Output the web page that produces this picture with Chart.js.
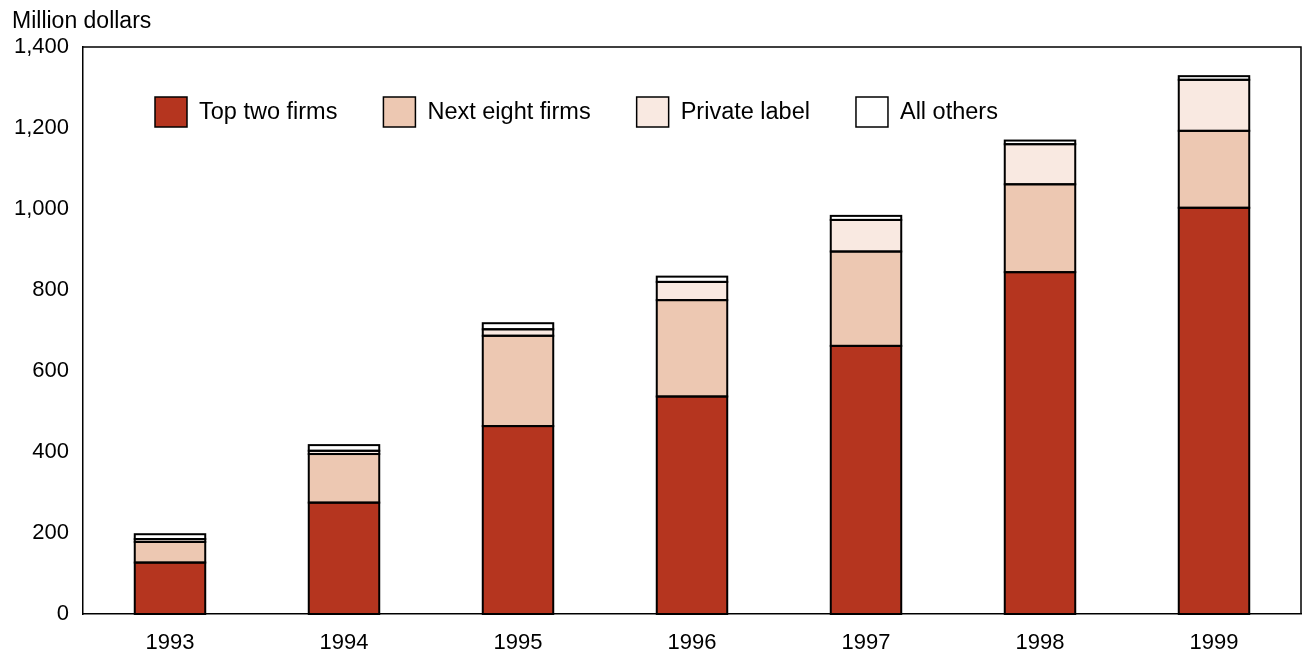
<!DOCTYPE html>
<html>
<head>
<meta charset="utf-8">
<script src="https://cdn.jsdelivr.net/npm/chart.js@4"></script>
<style>
  html, body { margin: 0; padding: 0; background: #fff; }
  #wrap { width: 1302px; height: 652px; }
</style>
</head>
<body>
<div id="wrap"><canvas id="salesChart" width="1302" height="652"></canvas></div>
<script>
// Values (million dollars)
const years = ['1993', '1994', '1995', '1996', '1997', '1998', '1999'];
const topTwo = [127, 275, 464, 537, 662, 844, 1003];
const nextEight = [51, 120, 223, 238, 233, 217, 190];
const privateLabel = [7, 8, 16, 45, 78, 99, 126];
const allOthers = [12, 14, 15, 13, 10, 9, 9];
const yTicks = [0, 200, 400, 600, 800, 1000, 1200, 1400];

const FONT = 'Liberation Sans, Arial, sans-serif';

// centred outlines round every bar segment (Chart.js insets its borders)
const outlines = {
  id: 'outlines',
  afterDatasetsDraw(chart) {
    const ctx = chart.ctx;
    ctx.save();
    ctx.strokeStyle = '#000';
    ctx.lineWidth = 2;
    chart.data.datasets.forEach((ds, i) => {
      chart.getDatasetMeta(i).data.forEach(bar => {
        const p = bar.getProps(['x', 'y', 'base', 'width'], true);
        ctx.strokeRect(p.x - p.width / 2, Math.min(p.y, p.base), p.width, Math.abs(p.base - p.y));
      });
    });
    ctx.restore();
  }
};

// frame on top/right, unit label and in-plot legend
const extras = {
  id: 'extras',
  afterDraw(chart) {
    const { ctx, chartArea: a } = chart;
    ctx.save();
    ctx.strokeStyle = '#000';
    ctx.lineWidth = 1.5;
    ctx.beginPath();
    ctx.moveTo(a.left, a.top);
    ctx.lineTo(a.right, a.top);
    ctx.lineTo(a.right, a.bottom);
    ctx.stroke();

    ctx.fillStyle = '#000';
    ctx.textBaseline = 'middle';
    ctx.textAlign = 'left';
    ctx.font = '23px ' + FONT;
    ctx.fillText('Million dollars', 12, 22);

    ctx.font = '23.5px ' + FONT;
    let x = 155;
    const y = 97;
    chart.data.datasets.forEach(ds => {
      ctx.fillStyle = ds.backgroundColor;
      ctx.fillRect(x, y, 32, 30);
      ctx.lineWidth = 1.5;
      ctx.strokeStyle = '#000';
      ctx.strokeRect(x, y, 32, 30);
      ctx.fillStyle = '#000';
      ctx.fillText(ds.label, x + 44, y + 16);
      x += 44 + ctx.measureText(ds.label).width + 46;
    });
    ctx.restore();
  }
};

function makeSet(label, data, color) {
  return {
    label, data,
    backgroundColor: color,
    borderWidth: 0,
    barPercentage: 0.405,
    categoryPercentage: 1.0
  };
}

new Chart(document.getElementById('salesChart'), {
  type: 'bar',
  data: {
    labels: years,
    datasets: [
      makeSet('Top two firms', topTwo, '#b5351f'),
      makeSet('Next eight firms', nextEight, '#edc8b2'),
      makeSet('Private label', privateLabel, '#f9e9e1'),
      makeSet('All others', allOthers, '#ffffff')
    ]
  },
  options: {
    responsive: false,
    animation: false,
    layout: { padding: { top: 47, right: 1, left: 0, bottom: 0 } },
    plugins: { legend: { display: false }, tooltip: { enabled: false } },
    scales: {
      x: {
        stacked: true,
        grid: { display: false, drawTicks: false },
        border: { color: '#000', width: 1.5 },
        ticks: { color: '#000', font: { family: FONT, size: 22 }, padding: 16, maxRotation: 0 },
        afterFit(scale) { scale.height = 38; }
      },
      y: {
        stacked: true,
        min: 0,
        max: 1400,
        afterBuildTicks(scale) { scale.ticks = yTicks.map(v => ({ value: v })); },
        grid: { display: false, drawTicks: false },
        border: { color: '#000', width: 1.5 },
        ticks: {
          color: '#000',
          font: { family: FONT, size: 22 },
          padding: 14,
          callback: v => v.toLocaleString('en-US')
        },
        afterFit(scale) { scale.width = 83; }
      }
    }
  },
  plugins: [outlines, extras]
});
</script>
</body>
</html>
